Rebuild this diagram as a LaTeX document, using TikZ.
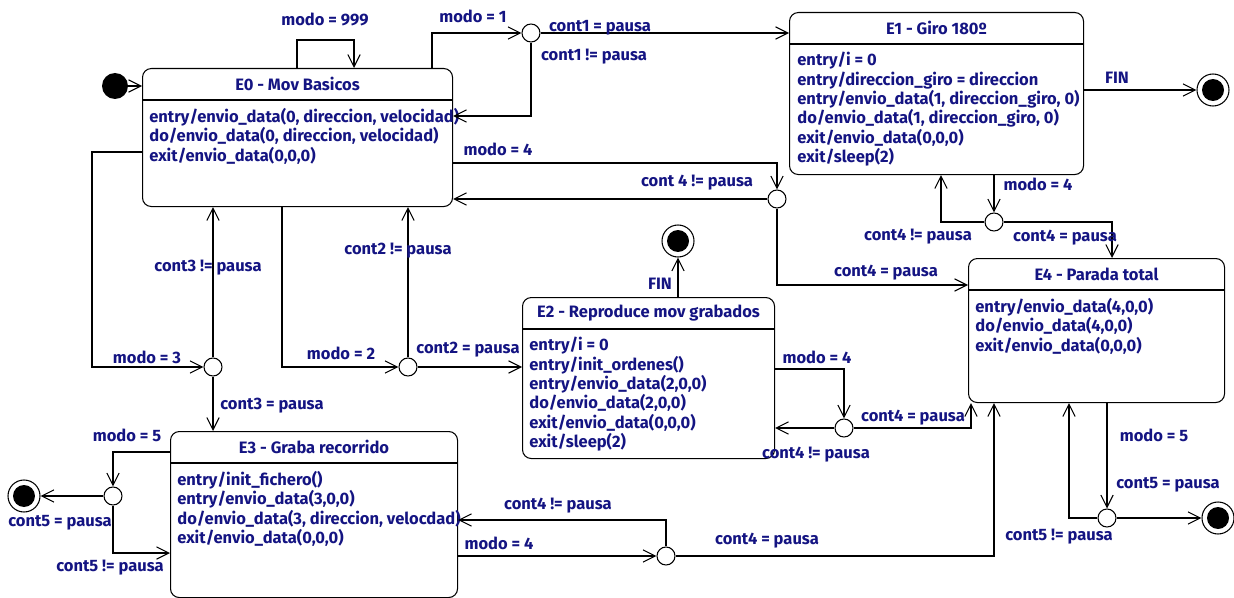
\documentclass[tikz,border=0pt]{standalone}
\usepackage{fontspec}
\setmainfont{Fira Sans}
\usetikzlibrary{arrows.meta, positioning}

\definecolor{azul}{RGB}{20,20,130}
\newcommand{\pxu}{0.02cm}

\tikzset{
  estado/.style={draw, rounded corners=5pt, anchor=north west, inner sep=0pt, line width=0.6pt},
  titulo/.style={text=azul, font=\fontsize{9.4}{11}\selectfont\bfseries, inner sep=0pt},
  cuerpo/.style={anchor=north west, inner sep=0pt, align=left, text=azul,
    font=\fontsize{9.4}{11}\selectfont\bfseries},
  cruce/.style={circle, draw, fill=white, minimum size=18*\pxu, inner sep=0pt, line width=0.6pt},
  inicio/.style={circle, fill=black, minimum size=26*\pxu, inner sep=0pt},
  fin/.style={circle, draw, fill=white, minimum size=32*\pxu, inner sep=0pt, line width=0.6pt,
    path picture={\fill[black] (path picture bounding box.center) circle (0.22cm);}},
  tr/.style={-{Straight Barb[length=7pt, width=7pt]}, line width=0.6pt},
  etq/.style={text=azul, font=\fontsize{9.4}{11}\selectfont\bfseries, inner sep=1pt},
}

\begin{document}
\begin{tikzpicture}[x=\pxu, y=-\pxu]
    \useasboundingbox (0,0) rectangle (1234,598);

    % 1. Estados
    \node[estado, minimum width=310*\pxu, minimum height=138*\pxu] (e0) at (142,68) {};
    \node[estado, minimum width=294*\pxu, minimum height=162*\pxu] (e1) at (789,12) {};
    \node[estado, minimum width=252*\pxu, minimum height=161*\pxu] (e2) at (522,297) {};
    \node[estado, minimum width=287*\pxu, minimum height=166*\pxu] (e3) at (170,431) {};
    \node[estado, minimum width=256*\pxu, minimum height=144*\pxu] (e4) at (968,258) {};

    \foreach \s/\t in {e0/E0 - Mov Basicos, e1/E1 - Giro 180º, e2/E2 - Reproduce mov grabados,
                       e3/E3 - Graba recorrido, e4/E4 - Parada total} {
        \node[titulo] (\s-tit) at ([yshift=-16*\pxu]\s.north) {\t};
        \draw[line width=0.6pt] ([yshift=-32*\pxu]\s.north west) -- ([yshift=-32*\pxu]\s.north east);
    }

    \node[cuerpo] (e0-txt) at ([xshift=7*\pxu, yshift=-40*\pxu]e0.north west)
        {entry/envio\_data(0, direccion, velocidad)\\do/envio\_data(0, direccion, velocidad)\\exit/envio\_data(0,0,0)};
    \node[cuerpo] (e1-txt) at ([xshift=8*\pxu, yshift=-40*\pxu]e1.north west)
        {entry/i = 0\\entry/direccion\_giro = direccion\\entry/envio\_data(1, direccion\_giro, 0)\\do/envio\_data(1, direccion\_giro, 0)\\exit/envio\_data(0,0,0)\\exit/sleep(2)};
    \node[cuerpo] (e2-txt) at ([xshift=7*\pxu, yshift=-40*\pxu]e2.north west)
        {entry/i = 0\\entry/init\_ordenes()\\entry/envio\_data(2,0,0)\\do/envio\_data(2,0,0)\\exit/envio\_data(0,0,0)\\exit/sleep(2)};
    \node[cuerpo] (e3-txt) at ([xshift=7*\pxu, yshift=-40*\pxu]e3.north west)
        {entry/init\_fichero()\\entry/envio\_data(3,0,0)\\do/envio\_data(3, direccion, velocdad)\\exit/envio\_data(0,0,0)};
    \node[cuerpo] (e4-txt) at ([xshift=7*\pxu, yshift=-40*\pxu]e4.north west)
        {entry/envio\_data(4,0,0)\\do/envio\_data(4,0,0)\\exit/envio\_data(0,0,0)};

    % 2. Pseudoestados
    \node[inicio] (i0) at (115,86) {};
    \node[fin] (f1) at (1213,90) {};
    \node[fin] (f2) at (678,241) {};
    \node[fin] (f3) at (24,496) {};
    \node[fin] (f4) at (1218,518) {};

    \node[cruce] (j1) at (531,33) {};
    \node[cruce] (j4a) at (777,199) {};
    \node[cruce] (j4b) at (994,222) {};
    \node[cruce] (j3) at (213,367) {};
    \node[cruce] (j2) at (408,367) {};
    \node[cruce] (j4c) at (844,428) {};
    \node[cruce] (j5a) at (113,496) {};
    \node[cruce] (j4d) at (666,556) {};
    \node[cruce] (j5b) at (1107,518) {};

    % 3. Transiciones
    \draw[tr] (i0) -- (i0 -| e0.west);
    \draw[tr] (297,0 |- e0.north) -- (297,40) -| (354,0 |- e0.north);
    \draw[tr] (432,0 |- e0.north) |- (j1);
    \draw[tr] (j1) -- (j1 -| e1.west);
    \draw[tr] (j1) |- (e0.east |- 0,116);
    \draw[tr] (e0.east |- 0,163) -| (j4a);
    \draw[tr] (j4a) -- (j4a -| e0.east);
    \draw[tr] (j4a) |- (e4.west |- 0,285);
    \draw[tr] (e1.east |- f1) -- (f1);
    \draw[tr] (j4b |- e1.south) -- (j4b);
    \draw[tr] (j4b) -| (941,0 |- e1.south);
    \draw[tr] (j4b) -| (1112,0 |- e4.north);
    \draw[tr] (e0.west |- 0,152) -- (92,152) |- (j3);
    \draw[tr] (j3) -- (j3 |- e0.south);
    \draw[tr] (j3) -- (j3 |- e3.north);
    \draw[tr] (282,0 |- e0.south) |- (j2);
    \draw[tr] (j2) -- (j2 |- e0.south);
    \draw[tr] (j2) -- (j2 -| e2.west);
    \draw[tr] (f2 |- e2.north) -- (f2);
    \draw[tr] (e2.east |- 0,369) -| (j4c);
    \draw[tr] (j4c) -- (j4c -| e2.east);
    \draw[tr] (j4c) -| ([xshift=3*\pxu]e4.south west);
    \draw[tr] (e3.west |- 0,452) -| (j5a);
    \draw[tr] (j5a) -- (f3);
    \draw[tr] (j5a) |- (e3.west |- 0,553);
    \draw[tr] (e3.east |- j4d) -- (j4d);
    \draw[tr] (j4d) |- (e3.east |- 0,520);
    \draw[tr] (j4d) -| (994,0 |- e4.south);
    \draw[tr] (j5b |- e4.south) -- (j5b);
    \draw[tr] (j5b) -- (f4);
    \draw[tr] (j5b) -| (1069,0 |- e4.south);

    % 4. Etiquetas
    \node[etq] (t999) at (325,19) {modo = 999};
    \node[etq] (tm1) at (473,16) {modo = 1};
    \node[etq] (tc1a) at (600,28) {cont1 = pausa};
    \node[etq] (tc1b) at (594,57) {cont1 != pausa};
    \node[etq] (tm4a) at (498,149) {modo = 4};
    \node[etq] (tc4a) at (697,183) {cont 4 != pausa};
    \node[etq] (tc4b) at (886,273) {cont4 = pausa};
    \node[etq] (tfin1) at (1117,78) {FIN};
    \node[etq] (tm4b) at (1038,184) {modo = 4};
    \node[etq] (tc4c) at (918,237) {cont4 != pausa};
    \node[etq] (tc4d) at (1065,238) {cont4 = pausa};
    \node[etq] (tc3a) at (208,268) {cont3 != pausa};
    \node[etq] (tm3) at (147,357) {modo = 3};
    \node[etq] (tc3b) at (272,406) {cont3 = pausa};
    \node[etq] (tm2) at (341,353) {modo = 2};
    \node[etq] (tc2a) at (398,251) {cont2 != pausa};
    \node[etq] (tc2b) at (468,350) {cont2 = pausa};
    \node[etq] (tfin2) at (660,284) {FIN};
    \node[etq] (tm4c) at (817,357) {modo = 4};
    \node[etq] (tc4e) at (816,455) {cont4 != pausa};
    \node[etq] (tc4f) at (913,418) {cont4 = pausa};
    \node[etq] (tm5a) at (127,435) {modo = 5};
    \node[etq] (tc5a) at (60,523) {cont5 = pausa};
    \node[etq] (tc5b) at (110,568) {cont5 != pausa};
    \node[etq] (tm4d) at (499,543) {modo = 4};
    \node[etq] (tc4g) at (558,506) {cont4 != pausa};
    \node[etq] (tc4h) at (767,541) {cont4 = pausa};
    \node[etq] (tm5b) at (1154,435) {modo = 5};
    \node[etq] (tc5c) at (1168,485) {cont5 = pausa};
    \node[etq] (tc5d) at (1059,537) {cont5 != pausa};
\end{tikzpicture}
\end{document}
